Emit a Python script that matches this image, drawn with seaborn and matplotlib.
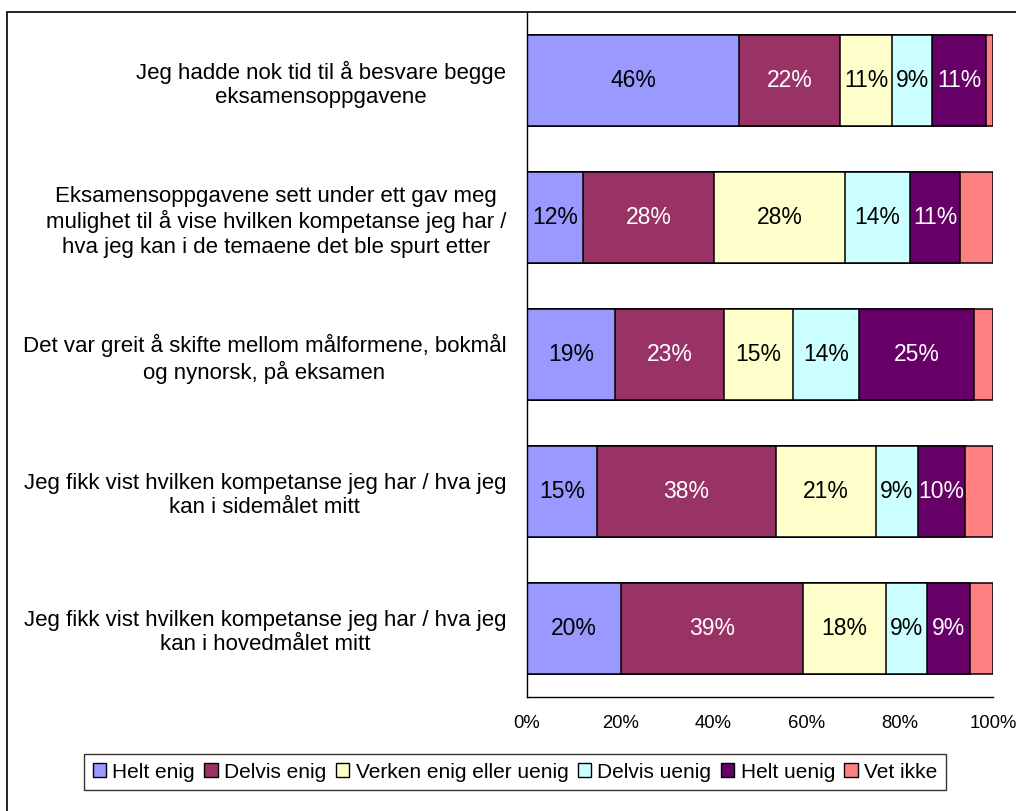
import numpy as np
import pandas as pd
import matplotlib.pyplot as plt
import seaborn as sns
from matplotlib.patches import Patch, Rectangle

# Påstander (ovenfra og ned)
statements = [
    "Jeg hadde nok tid til å besvare begge\neksamensoppgavene",
    "Eksamensoppgavene sett under ett gav meg\nmulighet til å vise hvilken kompetanse jeg har /\nhva jeg kan i de temaene det ble spurt etter",
    "Det var greit å skifte mellom målformene, bokmål\nog nynorsk, på eksamen",
    "Jeg fikk vist hvilken kompetanse jeg har / hva jeg\nkan i sidemålet mitt",
    "Jeg fikk vist hvilken kompetanse jeg har / hva jeg\nkan i hovedmålet mitt",
]

answers = ["Helt enig", "Delvis enig", "Verken enig eller uenig",
           "Delvis uenig", "Helt uenig", "Vet ikke"]

# Andeler (%) per svaralternativ
helt_enig = [45.5, 12.0, 18.9, 15.0, 20.2]
delvis_enig = [21.7, 28.1, 23.4, 38.4, 39.0]
verken = [11.2, 28.1, 14.8, 21.4, 17.8]
delvis_uenig = [8.6, 13.9, 14.2, 9.0, 8.8]
helt_uenig = [11.4, 10.9, 24.7, 10.1, 9.2]
vet_ikke = [1.6, 7.0, 4.0, 6.1, 5.0]

colors = ["#9999FF", "#993366", "#FFFFCC", "#CCFFFF", "#660066", "#FF8080"]
text_colors = ["black", "white", "black", "black", "white", "black"]

df = pd.DataFrame({"statement": statements,
                   "Helt enig": helt_enig,
                   "Delvis enig": delvis_enig,
                   "Verken enig eller uenig": verken,
                   "Delvis uenig": delvis_uenig,
                   "Helt uenig": helt_uenig,
                   "Vet ikke": vet_ikke})

cum = df[answers].cumsum(axis=1)

sns.set_style("white")
plt.rcParams["font.family"] = ["Liberation Sans", "DejaVu Sans"]
plt.rcParams["text.color"] = "black"
plt.rcParams["xtick.color"] = "black"
plt.rcParams["ytick.color"] = "black"

fig = plt.figure(figsize=(10.16, 8.11), dpi=100)
ax = fig.add_axes([527 / 1016, 114 / 811, 466 / 1016, 685 / 811])

# stablede søyler: tegn kumulative summer fra størst til minst
for i in range(len(answers) - 1, -1, -1):
    sns.barplot(x=cum[answers[i]], y=df["statement"], orient="h",
                color=colors[i], width=0.67, edgecolor="black",
                linewidth=1.1, saturation=1, ax=ax)

# prosentetiketter
for r in range(len(df)):
    left = 0
    for i, a in enumerate(answers):
        v = df.loc[r, a]
        if v >= 8:
            ax.text(left + v / 2, r, f"{v:.0f}%", ha="center", va="center",
                    fontsize=16.5, color=text_colors[i])
        left += v

ax.set_xlim(0, 100)
ax.set_ylim(len(df) - 0.5, -0.5)
ax.set_xlabel("")
ax.set_ylabel("")
ax.set_xticks(np.arange(0, 101, 20))
ax.set_xticklabels([f"{t}%" for t in range(0, 101, 20)], fontsize=13.3)
ax.set_yticks(range(len(df)))
ax.set_yticklabels(statements, fontsize=16, ha="right", multialignment="center",
                   linespacing=1.2)
ax.set_yticks(np.arange(-0.5, len(df), 1), minor=True)
ax.tick_params(axis="y", which="major", length=0, pad=15)
ax.tick_params(axis="y", which="minor", length=6, direction="out", width=1)
ax.tick_params(axis="x", length=5, direction="out", width=1, pad=8)
for s in ["top", "right"]:
    ax.spines[s].set_visible(False)
for s in ["left", "bottom"]:
    ax.spines[s].set_color("black")
    ax.spines[s].set_linewidth(1)

# legende
handles = [Patch(facecolor=c, edgecolor="black", linewidth=1) for c in colors]
leg = fig.legend(handles, answers, loc="center", bbox_to_anchor=(515 / 1016, 1 - 772 / 811),
                 ncol=6, fontsize=15, frameon=True, fancybox=False,
                 handlelength=0.65, handleheight=0.65, handletextpad=0.3,
                 columnspacing=0.45, borderpad=0.4, borderaxespad=0)
leg.get_frame().set_edgecolor("black")
leg.get_frame().set_linewidth(1)

# ramme rundt figuren
fig.patches.append(Rectangle((7 / 1016, -0.05), 1.1, 1 - 12 / 811 + 0.05,
                             transform=fig.transFigure, fill=False,
                             edgecolor="black", linewidth=1.2))

fig.savefig("out.png", dpi=100)
